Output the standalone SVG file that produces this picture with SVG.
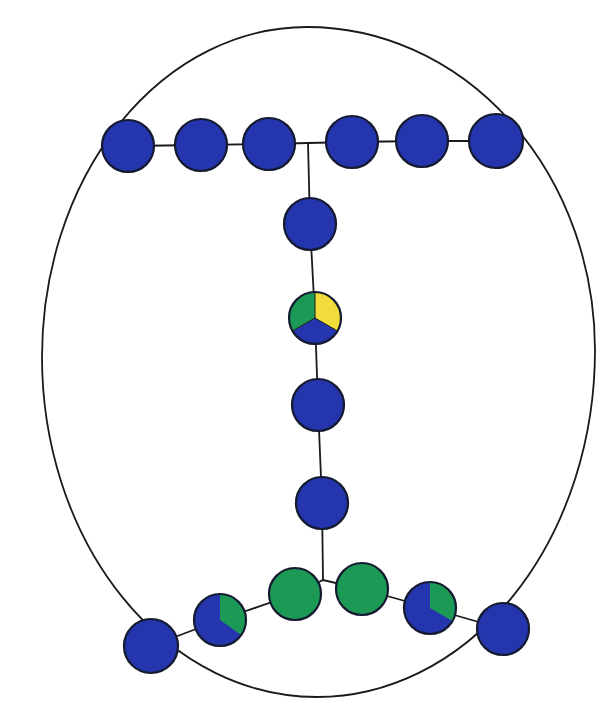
<svg xmlns="http://www.w3.org/2000/svg" width="597" height="719" viewBox="0 0 597 719">
<style>
.ln{stroke:#1a1a1a;stroke-width:1.8;fill:none;stroke-linecap:round}
.b{fill:#2535ad}
.g{fill:#1c9a55}
.y{fill:#f2dc3c}
.rim{fill:none;stroke:#141a30;stroke-width:2.2}
</style>
<rect width="597" height="719" fill="#ffffff"/>
<g id="outline">
<path class="ln" d="M 307 27 A 288 323 0 0 1 595 350 A 278 347 0 0 1 317 697 A 275 340 0 0 1 42 357 A 265 330 0 0 1 307 27 Z"/>
</g>
<g id="connectors">
<polyline class="ln" points="128,146 201,145 269,144 308,143 352,142 422,141 496,141"/>
<polyline class="ln" points="308,143 310,224 315,318 318,405 322,502 323,580"/>
<polyline class="ln" points="295,594 323,580 362,589"/>
<polyline class="ln" points="151,646 220,620 295,594"/>
<polyline class="ln" points="362,589 430,608 503,629"/>
</g>
<g id="n1"><circle class="b" cx="128" cy="146" r="26"/><circle class="rim" cx="128" cy="146" r="26"/></g>
<g id="n2"><circle class="b" cx="201" cy="145" r="26"/><circle class="rim" cx="201" cy="145" r="26"/></g>
<g id="n3"><circle class="b" cx="269" cy="144" r="26"/><circle class="rim" cx="269" cy="144" r="26"/></g>
<g id="n4"><circle class="b" cx="352" cy="142" r="26"/><circle class="rim" cx="352" cy="142" r="26"/></g>
<g id="n5"><circle class="b" cx="422" cy="141" r="26"/><circle class="rim" cx="422" cy="141" r="26"/></g>
<g id="n6"><circle class="b" cx="496" cy="141" r="27"/><circle class="rim" cx="496" cy="141" r="27"/></g>
<g id="n7"><circle class="b" cx="310" cy="224" r="26"/><circle class="rim" cx="310" cy="224" r="26"/></g>
<g id="n8">
<path class="y" d="M 315 318 L 315 292 A 26 26 0 0 1 337.5 331 Z"/>
<path class="b" d="M 315 318 L 337.5 331 A 26 26 0 0 1 292.5 331 Z"/>
<path class="g" d="M 315 318 L 292.5 331 A 26 26 0 0 1 315 292 Z"/>
<path class="ln" d="M 315 292 L 315 318 L 337.5 331 M 315 318 L 292.5 331" style="stroke-width:1"/>
<circle class="rim" cx="315" cy="318" r="26"/>
</g>
<g id="n9"><circle class="b" cx="318" cy="405" r="26"/><circle class="rim" cx="318" cy="405" r="26"/></g>
<g id="n10"><circle class="b" cx="322" cy="503" r="26"/><circle class="rim" cx="322" cy="503" r="26"/></g>
<g id="n11"><circle class="g" cx="295" cy="594" r="26"/><circle class="rim" cx="295" cy="594" r="26"/></g>
<g id="n12"><circle class="g" cx="362" cy="589" r="26"/><circle class="rim" cx="362" cy="589" r="26"/></g>
<g id="n13">
<circle class="b" cx="220" cy="620" r="26"/>
<path class="g" d="M 220 620 L 220 594 A 26 26 0 0 1 241.3 634.9 Z"/>
<circle class="rim" cx="220" cy="620" r="26"/>
</g>
<g id="n14">
<circle class="b" cx="430" cy="608" r="26"/>
<path class="g" d="M 430 608 L 430 582 A 26 26 0 0 1 452.5 621 Z"/>
<circle class="rim" cx="430" cy="608" r="26"/>
</g>
<g id="n15"><circle class="b" cx="151" cy="646" r="27"/><circle class="rim" cx="151" cy="646" r="27"/></g>
<g id="n16"><circle class="b" cx="503" cy="629" r="26"/><circle class="rim" cx="503" cy="629" r="26"/></g>
</svg>
